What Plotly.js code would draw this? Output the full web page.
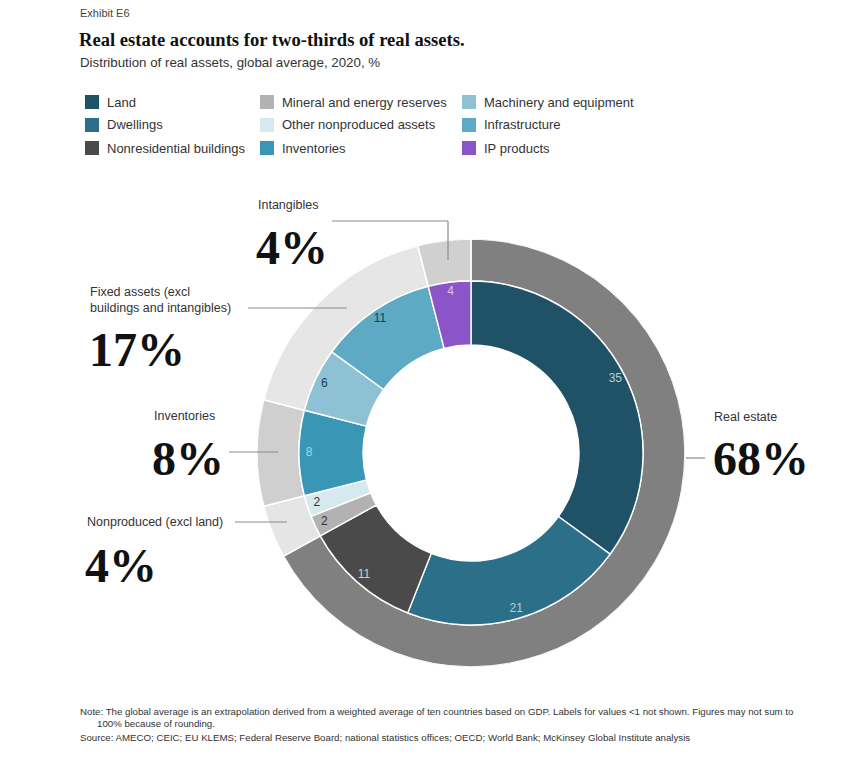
<!DOCTYPE html>
<html>
<head>
<meta charset="utf-8">
<script src="https://cdn.plot.ly/plotly-3.0.1.min.js"></script>
<style>
html,body{margin:0;padding:0;background:#fff;}
#chart{width:866px;height:761px;}
</style>
</head>
<body>
<div id="chart"></div>
<script>
// ---------------- DATA ----------------
const innerLabels = ["Land","Dwellings","Nonresidential buildings","Mineral and energy reserves",
  "Other nonproduced assets","Inventories","Machinery and equipment","Infrastructure","IP products"];
const innerValues = [35, 21, 11, 2, 2, 8, 6, 11, 4];
const innerColors = ["#1f5266","#2b7088","#4a4a4a","#b2b2b2","#d5e9ef","#3a96b5","#8fc1d4","#5eaac5","#8b54c9"];
const innerTextColors = ["#b7ccd5","#b5d0da","#cfcfcf","#333333","#333333","#a8d6e6","#1d3e4e","#1d3e4e","#dcc8f2"];

const outerLabels = ["Real estate","Nonproduced (excl land)","Inventories",
  "Fixed assets (excl<br>buildings and intangibles)","Intangibles"];
const outerValues = [67, 4, 8, 17, 4];
const outerShares = [68, 4, 8, 17, 4];
const outerColors = ["#808080","#e5e5e5","#cfcfcf","#e6e6e6","#d0d0d0"];

// legend layout order (column-major as in reference)
const legendColumns = [
  ["Land","Dwellings","Nonresidential buildings"],
  ["Mineral and energy reserves","Other nonproduced assets","Inventories"],
  ["Machinery and equipment","Infrastructure","IP products"]
];

// ---------------- GEOMETRY ----------------
const W = 866, H = 761;
const px = x => x / W;
const py = y => 1 - y / H;
const CX = 471, CY = 453, R_OUT = 214, R_MID = 172, R_HOLE = 108, R_TEXT = 162;

function arcs(values){
  let cum = 0; const mids = [], widths = [];
  values.forEach(v => { mids.push((cum + v/2) * 3.6); widths.push(v * 3.6); cum += v; });
  return {mids, widths};
}
const inA = arcs(innerValues), outA = arcs(outerValues);

const traces = [
  {
    type: "barpolar", name: "outer",
    theta: outA.mids, width: outA.widths,
    r: outerValues.map(() => R_OUT - R_MID), base: R_MID,
    marker: {color: outerColors, line: {color: "#ffffff", width: 1.6}},
    text: outerLabels, hoverinfo: "text", showlegend: false
  },
  {
    type: "barpolar", name: "inner",
    theta: inA.mids, width: inA.widths,
    r: innerValues.map(() => R_MID - R_HOLE), base: R_HOLE,
    marker: {color: innerColors, line: {color: "#ffffff", width: 1.4}},
    text: innerLabels, hoverinfo: "text", showlegend: false
  },
  {
    type: "scatterpolar", mode: "text",
    theta: inA.mids, r: innerValues.map(() => R_TEXT),
    text: innerValues.map(v => v >= 1 ? String(v) : ""),
    textfont: {family: "Liberation Sans, Arial, sans-serif", size: 12, color: innerTextColors},
    hoverinfo: "skip", showlegend: false, cliponaxis: false
  }
];

// ---------------- ANNOTATIONS ----------------
const sans = "Liberation Sans, Arial, sans-serif";
const serif = "Liberation Serif, Times New Roman, serif";
const ann = [];
const shapes = [];
function txt(x, y, text, size, color, family, opts){
  ann.push(Object.assign({xref:"paper", yref:"paper", x:px(x), y:py(y), text:text, showarrow:false,
    xanchor:"left", yanchor:"middle", align:"left",
    font:{family:family||sans, size:size, color:color}}, opts||{}));
}
txt(78, 13, "Exhibit E6", 11, "#444");
txt(77, 40, "<b>Real estate accounts for two-thirds of real assets.</b>", 18.6, "#111", serif);
txt(78, 62, "Distribution of real assets, global average, 2020, %", 13.3, "#333");

// legend
const colX = [85, 260, 462];
const rowY = [102, 125, 148];
legendColumns.forEach((col, ci) => {
  col.forEach((lab, ri) => {
    const k = innerLabels.indexOf(lab);
    shapes.push({type:"rect", xref:"paper", yref:"paper",
      x0:px(colX[ci]), x1:px(colX[ci]+14), y0:py(rowY[ri]+7), y1:py(rowY[ri]-7),
      fillcolor: innerColors[k], line:{width:0}});
    txt(colX[ci]+20, rowY[ri], lab, 13, "#333");
  });
});

// outer group labels
const big = 48;
const grp = [
  {i:4, lx:256, ly:205, bx:254, by:247},
  {i:3, lx:88,  ly:300, bx:87,  by:350},
  {i:2, lx:152, ly:416, bx:150, by:458},
  {i:1, lx:85,  ly:522, bx:83,  by:565},
  {i:0, lx:712, ly:417, bx:711, by:458}
];
grp.forEach(g => {
  txt(g.lx, g.ly, outerLabels[g.i], 12.5, "#333");
  txt(g.bx, g.by, "<b>" + outerShares[g.i] + "%</b>", big, "#111", serif);
});

// connector lines
const lc = {color:"#8a8a8a", width:1.2};
function seg(x0,y0,x1,y1){ shapes.push({type:"line", xref:"paper", yref:"paper",
  x0:px(x0), y0:py(y0), x1:px(x1), y1:py(y1), line:lc}); }
seg(332, 221, 448, 221); seg(448, 221, 448, 260);
seg(248, 308, 347, 308);
seg(229, 452, 278, 452);
seg(235, 522, 287, 522);
seg(686, 458, 705, 458);

// footnotes
const fn = "#333";
txt(78, 711, "Note: The global average is an extrapolation derived from a weighted average of ten countries based on GDP. Labels for values <1 not shown. Figures may not sum to", 9.7, fn);
txt(95, 723, "100% because of rounding.", 9.7, fn);
txt(78, 737, "Source: AMECO; CEIC; EU KLEMS; Federal Reserve Board; national statistics offices; OECD; World Bank; McKinsey Global Institute analysis", 9.7, fn);

const layout = {
  width: W, height: H,
  margin: {l:0, r:0, t:0, b:0},
  paper_bgcolor: "#ffffff",
  showlegend: false,
  polar: {
    domain: {x:[px(CX - R_OUT), px(CX + R_OUT)], y:[py(CY + R_OUT), py(CY - R_OUT)]},
    bgcolor: "rgba(0,0,0,0)",
    hole: 0,
    angularaxis: {visible:false, direction:"clockwise", rotation:90, showgrid:false, showline:false, ticks:""},
    radialaxis: {visible:false, range:[0, R_OUT], showgrid:false, showline:false}
  },
  annotations: ann,
  shapes: shapes
};
Plotly.newPlot("chart", traces, layout, {displayModeBar:false, staticPlot:true});
</script>
</body>
</html>
